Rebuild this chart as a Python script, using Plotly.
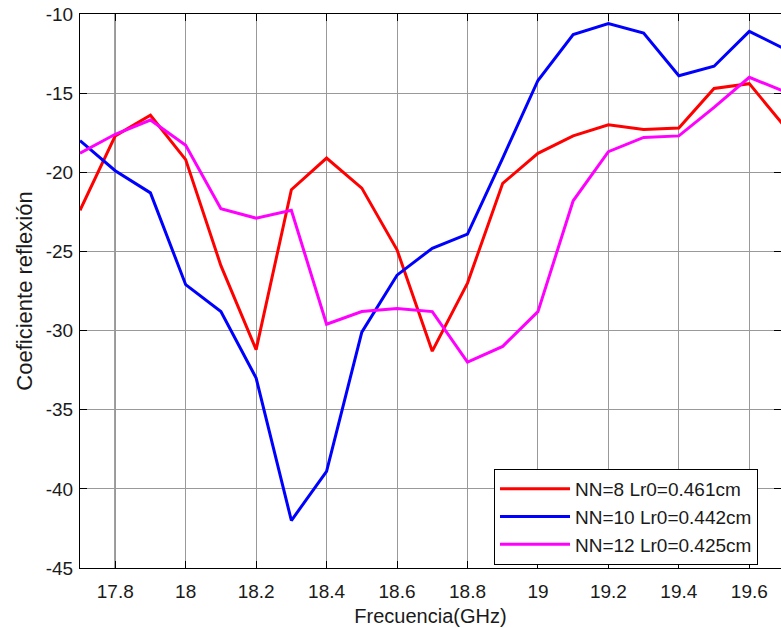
import plotly.graph_objects as go

# Frequency sweep (GHz)
freq = [17.7, 17.8, 17.9, 18.0, 18.1, 18.2, 18.3, 18.4, 18.5, 18.6, 18.7,
        18.8, 18.9, 19.0, 19.1, 19.2, 19.3, 19.4, 19.5, 19.6, 19.7]

# Reflection coefficient (dB) for each configuration
nn8 = [-22.4, -17.7, -16.4, -19.2, -25.9, -31.2, -21.1, -19.1, -21.0, -24.9, -31.3,
       -27.0, -20.7, -18.8, -17.7, -17.0, -17.3, -17.2, -14.7, -14.4, -17.1]
nn10 = [-18.0, -19.9, -21.3, -27.1, -28.8, -33.0, -42.0, -38.9, -30.1, -26.5, -24.8,
        -23.9, -19.1, -14.2, -11.3, -10.6, -11.2, -13.9, -13.3, -11.1, -12.2]
nn12 = [-18.8, -17.6, -16.7, -18.3, -22.3, -22.9, -22.4, -29.6, -28.8, -28.6, -28.8,
        -32.0, -31.0, -28.8, -21.8, -18.7, -17.8, -17.7, -15.9, -14.0, -14.9]

labels = ["NN=8 Lr0=0.461cm", "NN=10 Lr0=0.442cm", "NN=12 Lr0=0.425cm"]
colors = ["#ff0000", "#0000ff", "#ff00ff"]

x_ticks = [17.8, 18.0, 18.2, 18.4, 18.6, 18.8, 19.0, 19.2, 19.4, 19.6]
x_ticktext = ["17.8", "18", "18.2", "18.4", "18.6", "18.8", "19", "19.2", "19.4", "19.6"]
y_ticks = [-45, -40, -35, -30, -25, -20, -15, -10]
y_ticktext = ["-45", "-40", "-35", "-30", "-25", "-20", "-15", "-10"]

FONT = "Arial, Liberation Sans, sans-serif"

fig = go.Figure()
for name, ys, col in zip(labels, [nn8, nn10, nn12], colors):
    fig.add_trace(go.Scatter(x=freq, y=ys, mode="lines", name=name,
                             line=dict(color=col, width=3)))

# darker reference line at 17.8 GHz
fig.add_shape(type="line", xref="x", yref="paper", x0=17.8, x1=17.8, y0=0, y1=1,
              line=dict(color="black", width=1.2), layer="below")

axis_common = dict(
    showline=True, linecolor="black", linewidth=1, mirror="ticks",
    ticks="inside", ticklen=7, tickcolor="black", tickwidth=1,
    showgrid=True, gridcolor="#999999", gridwidth=1, zeroline=False,
    tickfont=dict(family=FONT, size=19, color="#1a1a1a"),
)

fig.update_layout(
    width=781, height=628,
    margin=dict(l=80, r=0, t=14, b=60),
    paper_bgcolor="white", plot_bgcolor="white",
    font=dict(family=FONT, color="#1a1a1a"),
    xaxis=dict(range=[17.7, 19.69], tickvals=x_ticks, ticktext=x_ticktext,
               title=dict(text="Frecuencia(GHz)", font=dict(family=FONT, size=20), standoff=8),
               ticklabelstandoff=6, **axis_common),
    yaxis=dict(range=[-45, -10], tickvals=y_ticks, ticktext=y_ticktext,
               title=dict(text="Coeficiente reflexión", font=dict(family=FONT, size=22), standoff=7),
               ticklabelstandoff=2, **axis_common),
    legend=dict(x=0.5906, y=0.0054, xanchor="left", yanchor="bottom",
                bgcolor="white", bordercolor="black", borderwidth=1,
                font=dict(family=FONT, size=19, color="#1a1a1a"),
                itemwidth=70, tracegroupgap=0),
    showlegend=True,
)

fig.write_html("out.html")
